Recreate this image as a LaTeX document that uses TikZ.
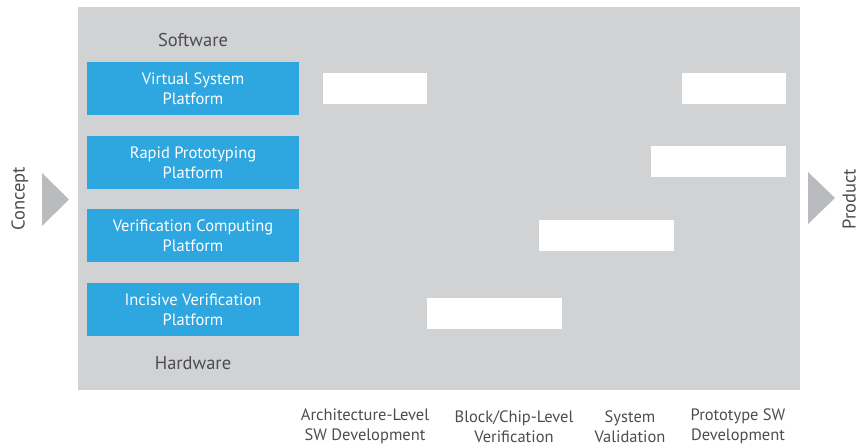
\documentclass[tikz,border=0pt]{standalone}
\usepackage{fontspec}
\setmainfont{PT Sans}
\definecolor{panelgray}{HTML}{D1D2D4}
\definecolor{boxblue}{HTML}{2EA6DF}
\definecolor{arrowgray}{HTML}{B9BBBE}
\definecolor{textgray}{HTML}{4D4D4F}
\begin{document}
\begin{tikzpicture}[x=1pt,y=-1pt,
  platform/.style={fill=boxblue,text=white,minimum width=212pt,minimum height=53pt,inner sep=0pt,align=center,font=\fontsize{16.5}{20}\selectfont},
  bar/.style={fill=white,inner sep=0pt},
  caption/.style={text=textgray,align=center,font=\fontsize{16.5}{20}\selectfont},
  label/.style={text=textgray,font=\fontsize{18.5}{22}\selectfont},
  tri/.style={fill=arrowgray}]
\useasboundingbox (0,0) rectangle (856,446);
\fill[panelgray] (78,7) rectangle (800,390);
% platforms
\node[platform] (vsp) at (193,88.5) {Virtual System\\Platform};
\node[platform] (rpp) at (193,162.5) {Rapid Prototyping\\Platform};
\node[platform] (vcp) at (193,235.5) {Verification Computing\\Platform};
\node[platform] (ivp) at (193,309.5) {Incisive Verification\\Platform};
\node[label] (sw) at (193,40) {Software};
\node[label] (hw) at (193,363) {Hardware};
% white bars
\fill[bar] (323,73) rectangle (427,104);
\fill[bar] (682,73) rectangle (786,104);
\fill[bar] (651,146) rectangle (786,177);
\fill[bar] (539,220) rectangle (674,251);
\fill[bar] (427,298) rectangle (562,329);
% arrows
\fill[tri] (42,173) -- (69,199.5) -- (42,226) -- cycle;
\fill[tri] (808,172) -- (835,198) -- (808,224) -- cycle;
\node[label,rotate=90] (concept) at (20,199) {Concept};
\node[label,rotate=90,anchor=north] (product) at (839,199) {Product};
% bottom captions
\node[caption] (c1) at (365,426.5) {Architecture-Level\\SW Development};
\node[caption] (c2) at (514,426.5) {Block/Chip-Level\\Verification};
\node[caption] (c3) at (630,426.5) {System\\Validation};
\node[caption] (c4) at (738,426.5) {Prototype SW\\Development};
\end{tikzpicture}
\end{document}
